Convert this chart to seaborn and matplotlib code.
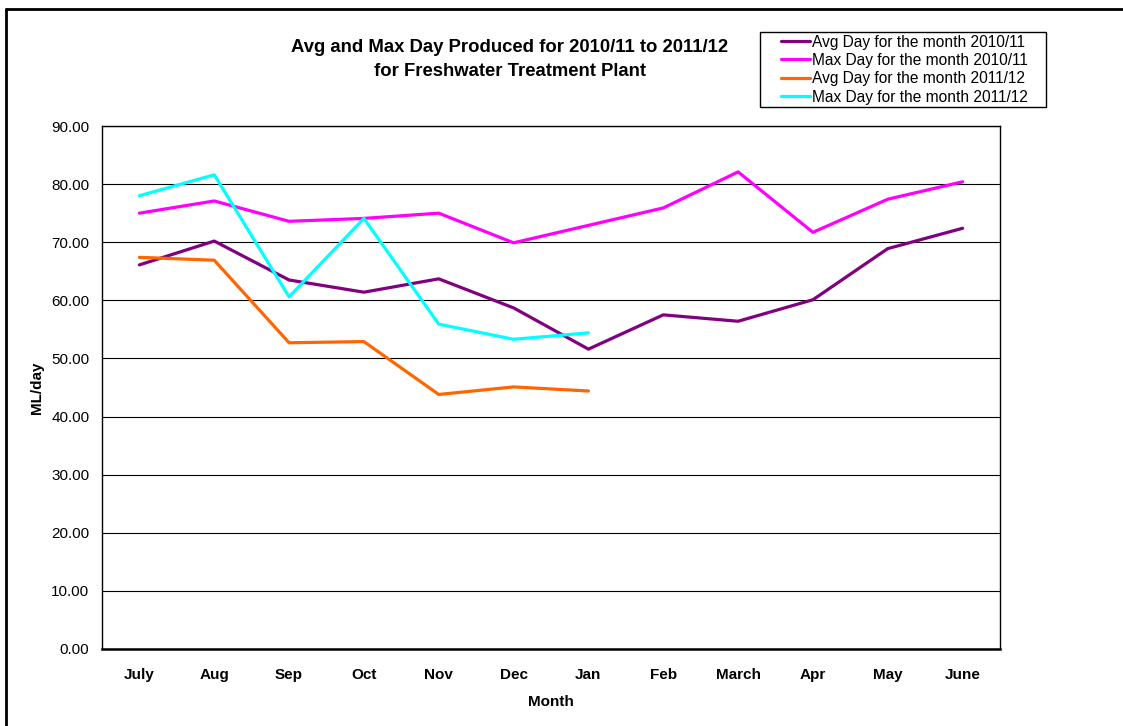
import matplotlib
matplotlib.use("Agg")
import matplotlib.pyplot as plt
from matplotlib.lines import Line2D
from matplotlib.patches import Rectangle
import numpy as np
import pandas as pd
import seaborn as sns

months = ["July", "Aug", "Sep", "Oct", "Nov", "Dec", "Jan", "Feb", "March", "Apr", "May", "June"]
avg_2010_11 = [66.1, 70.2, 63.5, 61.4, 63.7, 58.7, 51.6, 57.5, 56.4, 60.1, 68.9, 72.4]
max_2010_11 = [75.0, 77.1, 73.6, 74.1, 75.0, 69.9, 72.9, 75.9, 82.1, 71.7, 77.4, 80.4]
avg_2011_12 = [67.4, 66.9, 52.7, 52.9, 43.8, 45.1, 44.4]
max_2011_12 = [78.0, 81.6, 60.6, 74.1, 55.9, 53.3, 54.4]

series_names = ["Avg Day for the month 2010/11", "Max Day for the month 2010/11",
                "Avg Day for the month 2011/12", "Max Day for the month 2011/12"]
series_vals = [avg_2010_11, max_2010_11, avg_2011_12, max_2011_12]
colors = ["#800080", "#FF00FF", "#FF6600", "#00FFFF"]

rows = []
for name, vals in zip(series_names, series_vals):
    for i, v in enumerate(vals):
        rows.append({"pos": i, "Month": months[i], "value": v, "series": name})
df = pd.DataFrame(rows)

sns.set_style("white")
plt.rcParams["font.family"] = ["Liberation Sans", "DejaVu Sans"]
plt.rcParams["text.color"] = "black"
plt.rcParams["axes.labelcolor"] = "black"
plt.rcParams["xtick.color"] = "black"
plt.rcParams["ytick.color"] = "black"

W, H = 1123, 726
fig = plt.figure(figsize=(W/100, H/100), dpi=100)
ax = fig.add_axes([102/W, 1 - 649/H, (1000-102)/W, (649-126)/H])

sns.lineplot(data=df, x="pos", y="value", hue="series", hue_order=series_names,
             palette=colors, linewidth=2.3, ax=ax, legend=False, sort=False)

ax.set_xlim(-0.5, 11.5)
ax.set_ylim(0, 90)
ax.set_yticks(np.arange(0, 91, 10))
ax.set_yticklabels([f"{v:.2f}" for v in np.arange(0, 91, 10)], fontsize=11)
ax.yaxis.grid(True, color="black", linewidth=0.8)
ax.set_axisbelow(True)

ax.set_xticks(np.arange(-0.5, 12, 1))
ax.set_xticklabels([])
ax.set_xticks(np.arange(12), minor=True)
ax.set_xticklabels(months, minor=True, fontsize=11, fontweight="bold")
ax.tick_params(axis="x", which="major", direction="out", length=5, width=1, color="black")
ax.tick_params(axis="x", which="minor", length=0, pad=14)
ax.tick_params(axis="y", direction="out", length=5, width=1, color="black", pad=4)

for s in ax.spines.values():
    s.set_color("black")
    s.set_linewidth(1.0)
ax.spines["bottom"].set_linewidth(1.8)

ax.set_xlabel("Month", fontsize=11, fontweight="bold", labelpad=9)
ax.set_ylabel("ML/day", fontsize=11, fontweight="bold", labelpad=5)

fig.text(510/W, 1 - 48/H, "Avg and Max Day Produced for 2010/11 to 2011/12",
         ha="center", va="center", fontsize=13.3, fontweight="bold")
fig.text(510/W, 1 - 72/H, "for Freshwater Treatment Plant",
         ha="center", va="center", fontsize=13.3, fontweight="bold")

handles = [Line2D([0], [0], color=c, linewidth=2.3) for c in colors]
leg = fig.legend(handles, series_names, loc="upper left",
                 bbox_to_anchor=(781/W, 1 - 34.5/H), fontsize=11.2,
                 frameon=False, handlelength=1.85, handletextpad=0.15,
                 labelspacing=0.22, borderpad=0, borderaxespad=0)

# legend frame (Excel style, wide horizontal padding)
fig.add_artist(Rectangle((760/W, 1 - 107/H), (1046-760)/W, (107-32)/H,
                         transform=fig.transFigure, fill=False,
                         edgecolor="black", linewidth=1.0))

# outer chart frame
fig.add_artist(Line2D([6/W, 6/W], [0, 1 - 9/H], color="black", linewidth=2,
                      transform=fig.transFigure))
fig.add_artist(Line2D([6/W, 1], [1 - 9/H, 1 - 9/H], color="black", linewidth=2,
                      transform=fig.transFigure))

fig.savefig("out.png", dpi=100)
